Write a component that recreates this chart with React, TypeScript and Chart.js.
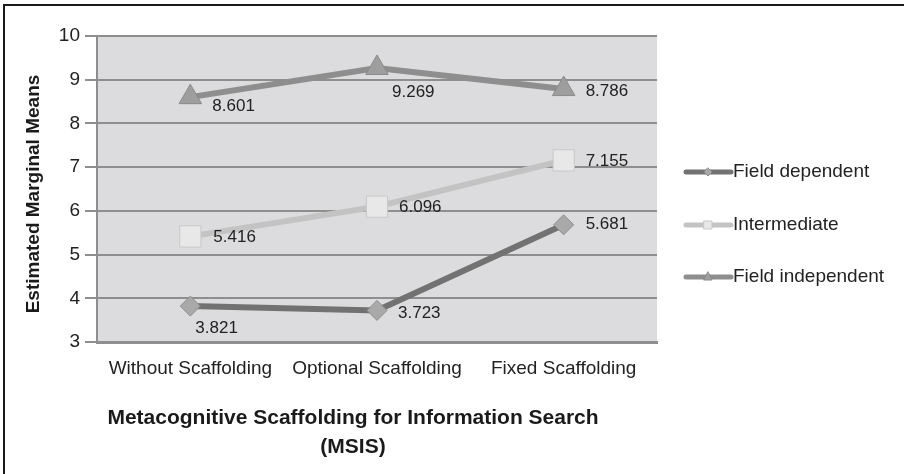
import React, { useEffect, useRef } from "react";
import { Chart, registerables } from "chart.js";

Chart.register(...registerables);

const categories = ["Without Scaffolding", "Optional Scaffolding", "Fixed Scaffolding"];
const fieldDependent = [3.821, 3.723, 5.681];
const intermediate = [5.416, 6.096, 7.155];
const fieldIndependent = [8.601, 9.269, 8.786];
const seriesNames = ["Field dependent", "Intermediate", "Field independent"];
const yTitle = "Estimated Marginal Means";
const xTitleLines = ["Metacognitive Scaffolding for Information Search", "(MSIS)"];

// label offsets (dx, dy) from the point, per series/point
const labelOffsets = [
  [[5, 22], [21, 3], [22, 0]],
  [[23, 1], [22, 1], [22, 1]],
  [[22, 9], [15, 24], [22, 2]],
];

const FONT = "'Liberation Sans', Arial, sans-serif";

const decorPlugin = {
  id: "decor",
  beforeDraw(chart: any) {
    const { ctx, chartArea } = chart;
    ctx.save();
    ctx.fillStyle = "#ffffff";
    ctx.fillRect(0, 0, chart.width, chart.height);
    ctx.fillStyle = "#dcdcde";
    ctx.fillRect(chartArea.left, chartArea.top, chartArea.right - chartArea.left, chartArea.bottom - chartArea.top);
    ctx.restore();
  },
  afterDraw(chart: any) {
    const { ctx, chartArea } = chart;
    ctx.save();
    // outer frame (top & left visible)
    ctx.fillStyle = "#1a1a1a";
    ctx.fillRect(3, 4, chart.width - 3, 2);
    ctx.fillRect(3, 4, 2, chart.height - 4);

    // data labels
    ctx.font = `17px ${FONT}`;
    ctx.fillStyle = "#222222";
    ctx.textAlign = "left";
    ctx.textBaseline = "middle";
    chart.data.datasets.forEach((ds: any, i: number) => {
      const meta = chart.getDatasetMeta(i);
      meta.data.forEach((pt: any, j: number) => {
        const [dx, dy] = labelOffsets[i][j];
        ctx.fillText(ds.data[j].toFixed(3), pt.x + dx, pt.y + dy);
      });
    });

    // y title
    ctx.save();
    ctx.translate(34, 194);
    ctx.rotate(-Math.PI / 2);
    ctx.font = `bold 19px ${FONT}`;
    ctx.fillStyle = "#1a1a1a";
    ctx.textAlign = "center";
    ctx.textBaseline = "middle";
    ctx.fillText(yTitle, 0, 0);
    ctx.restore();

    // x title
    ctx.font = `bold 21px ${FONT}`;
    ctx.fillStyle = "#1a1a1a";
    ctx.textAlign = "center";
    ctx.textBaseline = "middle";
    const cx = 353;
    xTitleLines.forEach((line, k) => {
      ctx.fillText(line, cx, 418 + k * 29);
    });

    // legend
    const legendY = [172, 225, 277];
    chart.data.datasets.forEach((ds: any, i: number) => {
      const y = legendY[i];
      ctx.strokeStyle = ds.borderColor;
      ctx.lineWidth = 5;
      ctx.lineCap = "round";
      ctx.beginPath();
      ctx.moveTo(686, y);
      ctx.lineTo(731, y);
      ctx.stroke();
      ctx.fillStyle = ds.pointBackgroundColor;
      ctx.strokeStyle = ds.pointBorderColor;
      ctx.lineWidth = 1;
      const mx = 708;
      ctx.beginPath();
      if (ds.pointStyle === "rectRot") {
        ctx.moveTo(mx, y - 4); ctx.lineTo(mx + 4, y); ctx.lineTo(mx, y + 4); ctx.lineTo(mx - 4, y); ctx.closePath();
      } else if (ds.pointStyle === "rect") {
        ctx.rect(mx - 4, y - 4, 8, 8);
      } else {
        ctx.moveTo(mx, y - 5); ctx.lineTo(mx + 4, y + 3); ctx.lineTo(mx - 4, y + 3); ctx.closePath();
      }
      ctx.fill();
      ctx.stroke();
      ctx.font = `19px ${FONT}`;
      ctx.fillStyle = "#222222";
      ctx.textAlign = "left";
      ctx.textBaseline = "middle";
      ctx.fillText(seriesNames[i], 733, y);
    });
    ctx.restore();
  },
};

export default function App() {
  const ref = useRef<HTMLCanvasElement>(null);
  useEffect(() => {
    document.body.style.margin = "0";
    const canvas = ref.current!;
    const chart = new Chart(canvas, {
      type: "line",
      data: {
        labels: categories,
        datasets: [
          {
            label: seriesNames[0],
            data: fieldDependent,
            borderColor: "#727272",
            borderWidth: 6,
            pointStyle: "rectRot",
            pointRadius: 10,
            pointBackgroundColor: "#a9a9a9",
            pointBorderColor: "#8c8c8c",
            pointBorderWidth: 1,
          },
          {
            label: seriesNames[1],
            data: intermediate,
            borderColor: "#c3c3c3",
            borderWidth: 6,
            pointStyle: "rect",
            pointRadius: 15,
            pointBackgroundColor: "#e8e8e8",
            pointBorderColor: "#c8c8c8",
            pointBorderWidth: 1,
          },
          {
            label: seriesNames[2],
            data: fieldIndependent,
            borderColor: "#8e8e8e",
            borderWidth: 6,
            pointStyle: "triangle",
            pointRadius: 13,
            pointBackgroundColor: "#9e9e9e",
            pointBorderColor: "#8a8a8a",
            pointBorderWidth: 1,
          },
        ],
      } as any,
      options: {
        responsive: false,
        animation: false,
        layout: { padding: { left: 0, top: 36, right: 247, bottom: 0 } },
        plugins: { legend: { display: false }, tooltip: { enabled: false }, title: { display: false } },
        scales: {
          x: {
            offset: true,
            grid: { display: false, drawTicks: false },
            border: { display: true, color: "#8e8e8e", width: 3 },
            ticks: { font: { family: FONT, size: 19 }, color: "#222222", padding: 15, maxRotation: 0 },
            afterFit: (s: any) => { s.height = 132; },
          },
          y: {
            min: 3,
            max: 10,
            ticks: { stepSize: 1, font: { family: FONT, size: 19 }, color: "#222222", padding: 5 },
            grid: { color: "#8e8e8e", lineWidth: 2, tickLength: 12, drawTicks: true },
            border: { display: true, color: "#8e8e8e", width: 2 },
            afterFit: (s: any) => { s.width = 97; },
          },
        },
      } as any,
      plugins: [decorPlugin],
    });
    return () => chart.destroy();
  }, []);
  return (
    <div style={{ position: "fixed", left: 0, top: 0, width: 904, height: 474 }}>
      <canvas ref={ref} width={904} height={474} style={{ width: 904, height: 474 }} />
    </div>
  );
}
